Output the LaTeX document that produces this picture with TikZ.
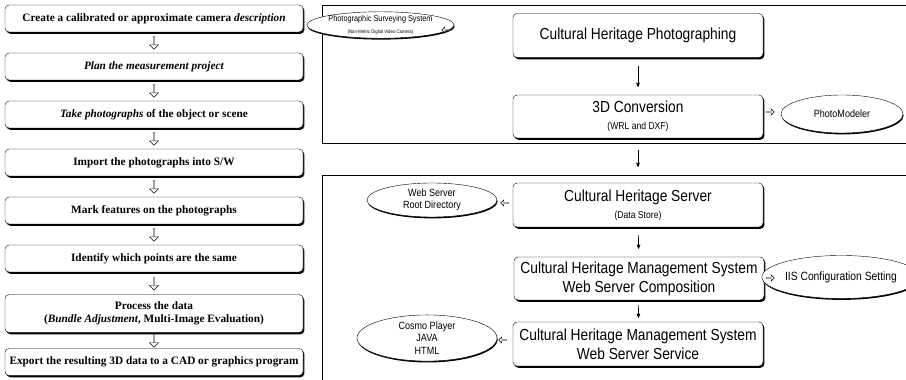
\documentclass[tikz,border=0pt]{standalone}
\usepackage{fontspec}
\setmainfont{Liberation Serif}
\newfontfamily\narrowsf[FakeStretch=0.86]{Liberation Sans}
\usetikzlibrary{arrows,positioning,shapes.geometric,shapes.arrows,shadows,calc}

\begin{document}
\begin{tikzpicture}[x=1pt,y=1pt,->,>=stealth',semithick,node distance=48pt,
  stage node/.style={rectangle,rounded corners=4pt,draw,thin,fill=white,
    minimum width=298pt,minimum height=27pt,inner sep=1pt,align=center,
    font=\fontsize{11.3}{13.5}\selectfont\bfseries,
    drop shadow={shadow xshift=1.4pt,shadow yshift=-1.8pt,opacity=1,fill=black}},
  down node/.style={single arrow,shape border rotate=270,draw,thin,fill=white,
    minimum height=13pt,minimum width=9pt,single arrow head extend=1.5pt,inner sep=0pt},
  main node/.style={rectangle,rounded corners=4pt,draw,thin,fill=white,
    minimum width=250pt,minimum height=44pt,inner sep=1pt,align=center,
    font=\narrowsf\fontsize{16}{19}\selectfont,
    drop shadow={shadow xshift=1.4pt,shadow yshift=-1.8pt,opacity=1,fill=black}},
  tool node/.style={ellipse,draw,thin,fill=white,inner sep=0pt,align=center,
    font=\narrowsf\fontsize{10.5}{12.5}\selectfont,
    drop shadow={shadow xshift=0.6pt,shadow yshift=-1.4pt,opacity=1,fill=black}},
  side node/.style={single arrow,draw,thin,fill=white,minimum height=8pt,
    minimum width=6pt,single arrow head extend=1pt,inner sep=0pt}]
  \useasboundingbox (0,0) rectangle (906,380);

  % working steps
  \node[stage node] (1) at (154,361.5) {Create a calibrated or approximate camera \textit{description}};
  \node[stage node] (2) [below of=1] {\textit{Plan the measurement project}};
  \node[stage node] (3) [below of=2] {\textit{Take photographs} of the object or scene};
  \node[stage node] (4) [below of=3] {Import the photographs into S/W};
  \node[stage node] (5) [below of=4] {Mark features on the photographs};
  \node[stage node] (6) [below of=5] {Identify which points are the same};
  \node[stage node,minimum height=38pt] (7) [below of=6,node distance=55pt]
    {Process the data\\(\textit{Bundle Adjustment}, Multi-Image Evaluation)};
  \node[stage node] (8) [below of=7,node distance=48.5pt]
    {Export the resulting 3D data to a CAD or graphics program};

  \node[down node] (d1) at ($(1.south)!0.5!(2.north)$) {};
  \node[down node] (d2) at ($(2.south)!0.5!(3.north)$) {};
  \node[down node] (d3) at ($(3.south)!0.5!(4.north)$) {};
  \node[down node] (d4) at ($(4.south)!0.5!(5.north)$) {};
  \node[down node] (d5) at ($(5.south)!0.5!(6.north)$) {};
  \node[down node] (d6) at ($(6.south)!0.5!(7.north)$) {};
  \node[down node] (d7) at ($(7.south)!0.5!(8.north)$) {};

  % system frames
  \draw[-,thin] (322,237) rectangle (907,375);
  \draw[-,thin] (322,-2) rectangle (907,205);

  \node[main node] (9) at (638,344.5) {Cultural Heritage Photographing};
  \node[main node,minimum height=43pt] (10) at (638,263.5)
    {3D Conversion\\[-2pt]{\fontsize{10}{12}\selectfont(WRL and DXF)}};
  \node[main node] (11) at (638,175)
    {Cultural Heritage Server\\[-2pt]{\fontsize{10}{12}\selectfont(Data Store)}};
  \node[main node,minimum height=43pt] (12) at (639,101.5)
    {Cultural Heritage Management System\\Web Server Composition};
  \node[main node] (13) at (638,36)
    {Cultural Heritage Management System\\Web Server Service};

  \node[tool node,minimum width=105pt,minimum height=25pt] (14) at (380.5,355)
    {{\fontsize{8.5}{9}\selectfont Photographic Surveying System}\\[-1pt]
     {\fontsize{5}{6}\selectfont (Non-Metric Digital Video Camera)}};
  \node[tool node,minimum width=122pt,minimum height=38pt] (15) at (842,266) {PhotoModeler};
  \node[tool node,minimum width=130pt,minimum height=34pt] (16) at (432,180)
    {Web Server\\Root Directory};
  \node[tool node,minimum width=129pt,minimum height=43pt,
    font=\narrowsf\fontsize{12}{14}\selectfont] (17) at (841,103) {IIS Configuration Setting};
  \node[tool node,minimum width=140pt,minimum height=43pt] (18) at (427,42)
    {Cosmo Player\\JAVA\\HTML};

  \node[side node,shape border rotate=180] (t1) at (446,350) {};
  \node[side node] (t2) at (770,268) {};
  \node[side node,shape border rotate=180] (t3) at (505,177) {};
  \node[side node] (t4) at (770,102) {};
  \node[side node,shape border rotate=180] (t5) at (503,40) {};

  \path[shorten <=8pt,shorten >=8pt]
    (9) edge (10)
    (11) edge (12)
    (12) edge[shorten <=5pt,shorten >=4pt] (13);
  \draw[shorten <=12pt,shorten >=16pt] (10) -- (11);
\end{tikzpicture}
\end{document}
